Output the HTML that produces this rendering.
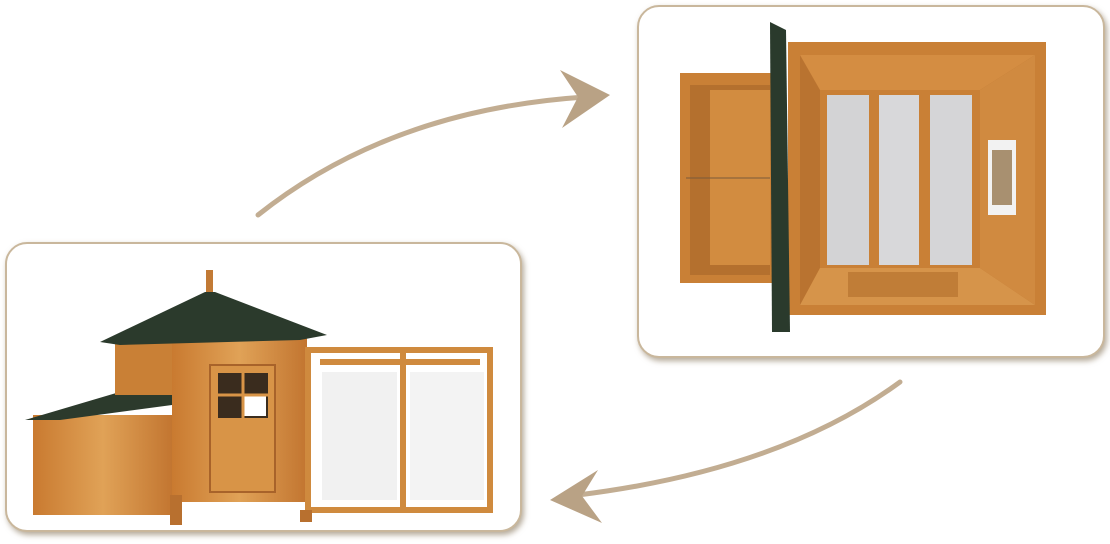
<!DOCTYPE html>
<html><head><meta charset="utf-8"><style>
html,body{margin:0;padding:0;background:#fff;}
body{width:1110px;height:544px;overflow:hidden;position:relative;font-family:"Liberation Sans",sans-serif;}
.box{position:absolute;background:#fff;border:2px solid #c9b79c;border-radius:22px;box-shadow:2px 3px 6px rgba(120,100,70,.55);}
svg{position:absolute;left:0;top:0;}
</style></head><body>
<div class="box" style="left:5px;top:242px;width:513px;height:286px;"></div>
<div class="box" style="left:637px;top:5px;width:464px;height:349px;"></div>
<svg width="1110" height="544" viewBox="0 0 1110 544">
<defs>
<linearGradient id="w" x1="0" x2="1"><stop offset="0" stop-color="#c97a30"/><stop offset=".5" stop-color="#e0a257"/><stop offset="1" stop-color="#c27530"/></linearGradient>
</defs>
<!-- arrows -->
<path d="M258 215 Q 390 110 585 97" stroke="#c2ad92" stroke-width="5" fill="none" stroke-linecap="round"/>
<path d="M610 95 L560 70 L578 97 L562 128 Z" fill="#b9a285"/>
<path d="M900 382 Q 780 470 578 495" stroke="#c2ad92" stroke-width="5" fill="none" stroke-linecap="round"/>
<path d="M550 500 L598 470 L582 496 L602 523 Z" fill="#b9a285"/>

<!-- left coop -->
<rect x="33" y="415" width="140" height="100" fill="url(#w)"/>
<polygon points="25,420 140,386 172,386 172,405 60,420" fill="#2c3a2c"/>
<rect x="115" y="335" width="60" height="60" fill="#c98036"/>
<rect x="172" y="330" width="135" height="172" fill="url(#w)"/>
<polygon points="100,342 205,292 215,292 327,335 300,340 120,345" fill="#2b3a2c"/>
<rect x="206" y="270" width="7" height="22" fill="#c27a35"/>
<rect x="210" y="365" width="65" height="127" fill="#d89447" stroke="#a8632a" stroke-width="2"/>
<rect x="218" y="373" width="50" height="45" fill="#3a2c1e"/>
<rect x="242" y="395" width="24" height="21" fill="#fff"/>
<line x1="243" y1="373" x2="243" y2="418" stroke="#d89447" stroke-width="3"/>
<line x1="218" y1="395" x2="268" y2="395" stroke="#d89447" stroke-width="3"/>
<rect x="170" y="495" width="12" height="30" fill="#b8702f"/>
<!-- run -->
<g fill="none" stroke="#cf8a3e" stroke-width="6">
<rect x="308" y="350" width="182" height="160"/>
<line x1="403" y1="350" x2="403" y2="510"/>
<line x1="320" y1="362" x2="480" y2="362"/>
</g>
<rect x="322" y="372" width="75" height="128" fill="#f1f1f1"/>
<rect x="410" y="372" width="74" height="128" fill="#f3f3f3"/>
<rect x="300" y="510" width="12" height="12" fill="#b8702f"/>

<!-- right top-down -->
<rect x="680" y="73" width="95" height="210" fill="#c98036"/>
<rect x="690" y="85" width="80" height="190" fill="#b4702e"/>
<rect x="710" y="90" width="60" height="175" fill="#d28c40"/>
<line x1="686" y1="178" x2="770" y2="178" stroke="#7a5a3a" stroke-width="1"/>
<rect x="788" y="42" width="258" height="273" fill="#c98036"/>
<rect x="800" y="55" width="235" height="250" fill="#b97330"/>
<polygon points="800,55 1035,55 980,90 820,90" fill="#d48d42"/>
<polygon points="800,305 1035,305 980,268 820,268" fill="#d6944a"/>
<polygon points="1035,55 1035,305 980,268 980,90" fill="#d08a40"/>
<rect x="820" y="90" width="160" height="178" fill="#c98036"/>
<rect x="827" y="95" width="42" height="170" fill="#d3d3d5"/>
<rect x="879" y="95" width="40" height="170" fill="#d8d8da"/>
<rect x="930" y="95" width="42" height="170" fill="#d5d5d7"/>
<rect x="988" y="140" width="28" height="75" fill="#f2f2f2"/>
<rect x="992" y="150" width="20" height="55" fill="#a89070"/>
<rect x="848" y="272" width="110" height="25" fill="#c07d37"/>
<polygon points="770,22 786,30 790,332 772,332" fill="#2a3a2c"/>
</svg>
</body></html>
